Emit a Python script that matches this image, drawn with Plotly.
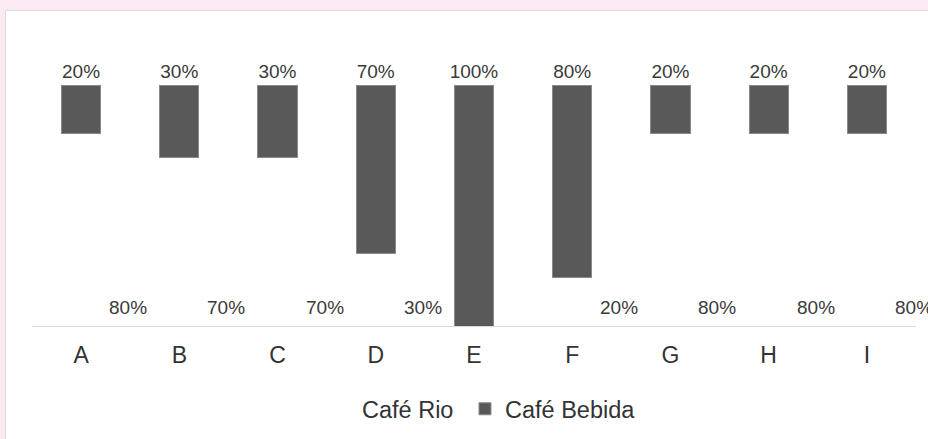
import plotly.graph_objects as go

# Share of each drink per location (percent)
categories = ["A", "B", "C", "D", "E", "F", "G", "H", "I"]
cafe_rio = [80, 70, 70, 30, 0, 20, 80, 80, 80]
cafe_bebida = [20, 30, 30, 70, 100, 80, 20, 20, 20]
series_names = ["Café Rio", "Café Bebida"]

W, H = 928, 439
L, R, T, B = 32, 12, 85, 113
PW, PH = W - L - R, H - T - B

FONT = "Arial, Liberation Sans, sans-serif"
BAR = "#595959"
PINK = "#fbe9f4"


def px_x(px):
    return (px - L) / PW


def px_y(py):
    return (H - B - py) / PH


fig = go.Figure()

# Lower segment: white, so only its label shows
# (a trailing no-break space widens the first legend entry a little)
fig.add_trace(go.Bar(
    x=categories, y=cafe_rio, name=series_names[0] + "\u00a0",
    marker=dict(color="white", line=dict(width=0)),
    width=0.4, hoverinfo="skip",
))

# Upper segment hanging from the 100% line
fig.add_trace(go.Bar(
    x=categories, y=cafe_bebida, name=series_names[1],
    marker=dict(color=BAR, line=dict(color="#8a8a8a", width=1)),
    width=0.4,
    text=[f"{v}%" for v in cafe_bebida],
    textposition="outside",
    textfont=dict(family=FONT, size=19, color="#3a3a3a"),
    cliponaxis=False,
    constraintext="none",
))

# Labels for the lower segment, placed along the baseline between columns
annotations = []
for cat, v in zip(categories, cafe_rio):
    if v == 0:
        continue
    annotations.append(dict(
        x=cat, y=0, xref="x", yref="y",
        text=f"{v}%", showarrow=False,
        xshift=47, yshift=19, yanchor="middle",
        font=dict(family=FONT, size=19, color="#3a3a3a"),
    ))

fig.update_layout(
    width=W, height=H,
    margin=dict(l=L, r=R, t=T, b=B, pad=0, autoexpand=False),
    paper_bgcolor=PINK,
    plot_bgcolor="rgba(0,0,0,0)",
    barmode="stack",
    bargap=0.6,
    showlegend=True,
    annotations=annotations,
    shapes=[dict(
        type="rect", xref="paper", yref="paper", layer="below",
        x0=px_x(5.5), x1=px_x(W + 10), y0=px_y(H + 10), y1=px_y(10.5),
        fillcolor="white", line=dict(color="#dedbde", width=1),
    )],
    xaxis=dict(
        type="category",
        range=[-0.5, len(categories) - 0.5],
        showgrid=False, zeroline=False,
        showline=True, linecolor="#d9d9d9", linewidth=1,
        ticks="", ticklabelstandoff=8,
        tickfont=dict(family=FONT, size=23, color="#333333"),
    ),
    yaxis=dict(
        range=[0, 100], visible=False, showgrid=False, zeroline=False,
    ),
    legend=dict(
        orientation="h", xanchor="left", x=px_x(322),
        yanchor="middle", y=px_y(409),
        font=dict(family=FONT, size=23.5, color="#333333"),
        bgcolor="rgba(0,0,0,0)", traceorder="normal",
    ),
)

fig.write_html("out.html")
